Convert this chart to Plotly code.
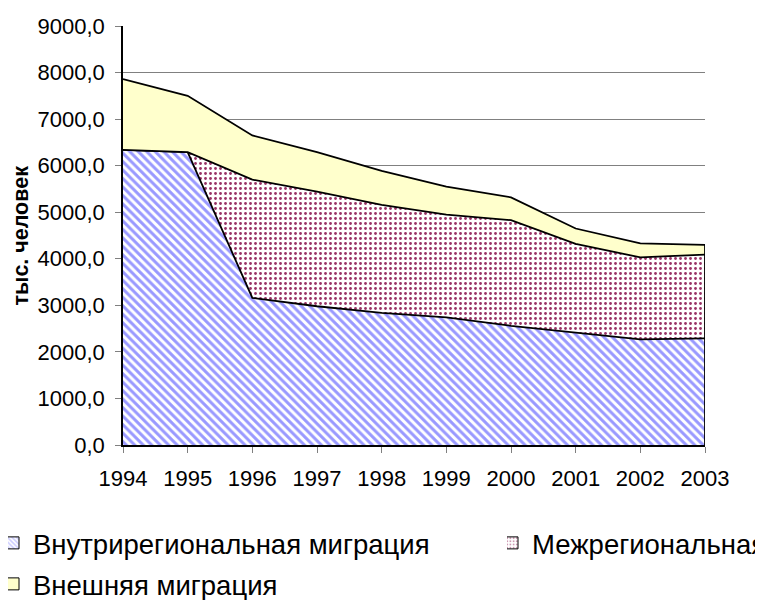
import plotly.graph_objects as go

years = [1994, 1995, 1996, 1997, 1998, 1999, 2000, 2001, 2002, 2003]
intra = [6340, 6290, 3160, 2980, 2840, 2740, 2560, 2420, 2270, 2290]
inter = [0, 0, 2540, 2460, 2320, 2210, 2270, 1900, 1760, 1800]
external = [1520, 1210, 950, 850, 730, 600, 490, 330, 300, 210]

names = ["Внутрирегиональная миграция", "Межрегиональная", "Внешняя миграция"]
y_ticks = [0, 1000, 2000, 3000, 4000, 5000, 6000, 7000, 8000, 9000]
y_title = "тыс. человек"

FONT = "Arial, Liberation Sans, sans-serif"

fig = go.Figure()

line = dict(color="black", width=1.8)
fig.add_trace(go.Scatter(
    x=years, y=intra, stackgroup="one", mode="lines", line=line,
    fillcolor="#9999FF",
    fillpattern=dict(shape="\\", fgcolor="#9999FF", bgcolor="white",
                     size=6, solidity=0.5, fillmode="replace"),
    showlegend=False, name=names[0]))
fig.add_trace(go.Scatter(
    x=years, y=inter, stackgroup="one", mode="lines", line=line,
    fillcolor="#993366",
    fillpattern=dict(shape=".", fgcolor="#993366", bgcolor="white",
                     size=5, solidity=0.25, fillmode="replace"),
    showlegend=False, name=names[1]))
fig.add_trace(go.Scatter(
    x=years, y=external, stackgroup="one", mode="lines", line=line,
    fillcolor="#FFFFCC", showlegend=False, name=names[2]))

# right-hand closing edge of the stacked area
total_last = intra[-1] + inter[-1] + external[-1]
fig.add_trace(go.Scatter(x=[years[-1], years[-1]], y=[0, total_last],
                         mode="lines", line=line, showlegend=False,
                         hoverinfo="skip"))

# legend proxies
fig.add_trace(go.Bar(x=[None], y=[None], name=names[0], legend="legend",
                     marker=dict(color="white", line=dict(color="black", width=1),
                                 pattern=dict(shape="\\", fgcolor="#9999FF",
                                              bgcolor="white", size=4, solidity=0.5))))
fig.add_trace(go.Bar(x=[None], y=[None], name=names[1], legend="legend2",
                     marker=dict(color="white", line=dict(color="black", width=1),
                                 pattern=dict(shape=".", fgcolor="#993366",
                                              bgcolor="white", size=4, solidity=0.3))))
fig.add_trace(go.Bar(x=[None], y=[None], name=names[2], legend="legend3",
                     marker=dict(color="#FFFFCC", line=dict(color="black", width=1))))

W, H = 755, 592  # page body has an 8px margin
ML, MR, MT, MB = 115, 58, 18, 155


def cx(px):
    return (px - 8) / W


def cy(py):
    return 1 - (py - 8) / H


leg_common = dict(orientation="h", xref="container", yref="container",
                  xanchor="left", yanchor="middle", font=dict(size=27.5),
                  itemwidth=30, indentation=-15, bgcolor="rgba(0,0,0,0)")

fig.add_annotation(text="<b>" + y_title + "</b>", textangle=-90,
                   xref="paper", yref="paper",
                   x=(20 - 8 - ML) / (W - ML - MR), y=0.5,
                   xanchor="center", yanchor="middle", showarrow=False,
                   font=dict(size=21.5))

fig.update_layout(
    width=W, height=H,
    margin=dict(l=ML, r=MR, t=MT, b=MB),
    paper_bgcolor="white", plot_bgcolor="white",
    font=dict(family=FONT, size=22, color="black"),
    separators=", ",
    legend=dict(x=0, y=cy(543), **leg_common),
    legend2=dict(x=cx(507), y=cy(543), **leg_common),
    legend3=dict(x=0, y=cy(584), **leg_common),
    xaxis=dict(range=[years[0], years[-1]], tickmode="array", tickvals=years,
               ticktext=[str(y) for y in years], showgrid=False,
               showline=True, linecolor="black", linewidth=1.5,
               ticks="outside", ticklen=6, tickcolor="#808080",
               ticklabelstandoff=7, zeroline=False, automargin=False),
    yaxis=dict(range=[0, 9000], tickmode="array", tickvals=y_ticks,
               tickformat=".1f", showgrid=True, gridcolor="#808080", gridwidth=1,
               showline=True, linecolor="black", linewidth=1.5,
               ticks="outside", ticklen=6, tickcolor="#808080",
               ticklabelstandoff=6, zeroline=False, automargin=False),
)

fig.write_html("out.html")
